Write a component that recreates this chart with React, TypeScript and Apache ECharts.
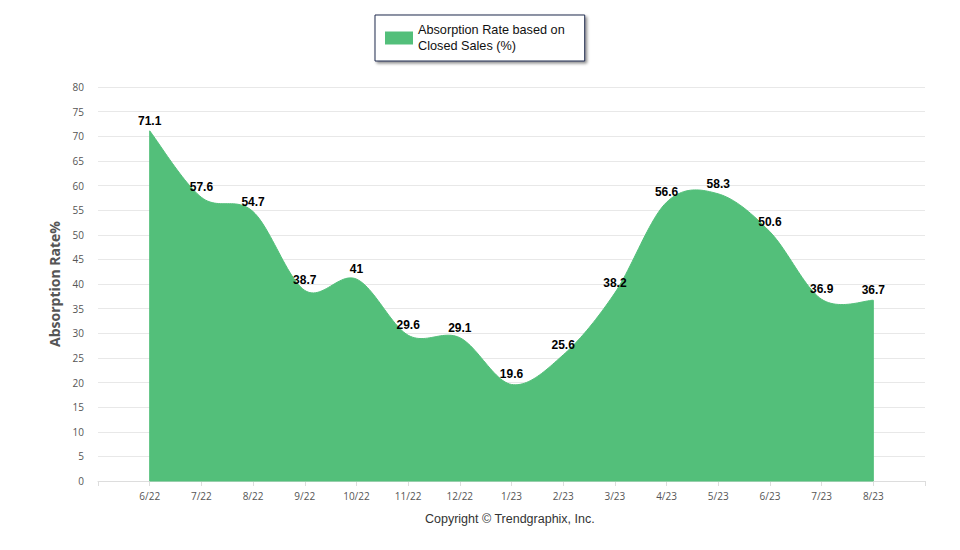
import React, { useEffect, useRef } from "react";
import * as echarts from "echarts";

const categories = ["", "6/22", "7/22", "8/22", "9/22", "10/22", "11/22", "12/22", "1/23", "2/23", "3/23", "4/23", "5/23", "6/23", "7/23", "8/23", ""];
const values: (number | null)[] = [null, 71.1, 57.6, 54.7, 38.7, 41, 29.6, 29.1, 19.6, 25.6, 38.2, 56.6, 58.3, 50.6, 36.9, 36.7, null];
const seriesName = "Absorption Rate based on\nClosed Sales (%)";
const yMin = 0;
const yMax = 80;
const yInterval = 5;

export default function App() {
  const ref = useRef<HTMLDivElement>(null);
  useEffect(() => {
    if (!ref.current) return;
    const chart = echarts.init(ref.current, null, { renderer: "svg" });
    const green = "#53bf7a";
    const pointData: [number, number][] = [];
    values.forEach((v, i) => {
      if (v !== null) pointData.push([i, v]);
    });

    const renderItem = (params: any, api: any) => {
      if (params.dataIndex !== 0) return null;
      const pts: number[][] = pointData.map((d) => api.coord(d));
      const n = pts.length;
      const top: number[][] = [];
      const steps = 24;
      for (let i = 0; i < n - 1; i++) {
        const p0 = pts[Math.max(0, i - 1)];
        const p1 = pts[i];
        const p2 = pts[i + 1];
        const p3 = pts[Math.min(n - 1, i + 2)];
        for (let s = 0; s < steps; s++) {
          const t = s / steps;
          const t2 = t * t;
          const t3 = t2 * t;
          const f = (a: number, b: number, c: number, d: number) =>
            0.5 * (2 * b + (-a + c) * t + (2 * a - 5 * b + 4 * c - d) * t2 + (-a + 3 * b - 3 * c + d) * t3);
          top.push([f(p0[0], p1[0], p2[0], p3[0]), f(p0[1], p1[1], p2[1], p3[1])]);
        }
      }
      top.push(pts[n - 1]);
      const baseL = api.coord([pointData[0][0], 0]);
      const baseR = api.coord([pointData[n - 1][0], 0]);
      const poly = [...top, [baseR[0], baseR[1]], [baseL[0], baseL[1]]];
      const labels = pointData.map((d, i) => ({
        type: "text",
        x: pts[i][0],
        y: pts[i][1] - 4,
        z2: 10,
        style: {
          text: String(d[1]),
          align: "center",
          verticalAlign: "bottom",
          fill: "#000",
          fontSize: 12,
          fontWeight: "bold",
          fontFamily: "Liberation Sans, Arial, sans-serif",
        },
      }));
      return {
        type: "group",
        children: [
          {
            type: "polygon",
            shape: { points: poly },
            style: { fill: green, stroke: green, lineWidth: 1 },
          },
          ...labels,
        ],
      };
    };

    chart.setOption({
      animation: false,
      backgroundColor: "#ffffff",
      textStyle: { fontFamily: "Liberation Sans, Arial, sans-serif" },
      legend: {
        top: 15,
        left: 375,
        itemWidth: 28,
        itemHeight: 13,
        itemGap: 6,
        padding: [7, 20, 7, 10],
        borderColor: "#1f2d4f",
        borderWidth: 1,
        backgroundColor: "#ffffff",
        shadowColor: "rgba(0,0,0,0.45)",
        shadowBlur: 3,
        shadowOffsetX: 2,
        shadowOffsetY: 2,
        textStyle: { fontSize: 12.7, color: "#111", lineHeight: 16, fontFamily: "Liberation Sans, Arial, sans-serif" },
        data: [{ name: seriesName, icon: "rect", itemStyle: { color: green } }],
      },
      grid: { left: 98, right: 35, top: 87, bottom: 69 },
      xAxis: {
        type: "category",
        boundaryGap: false,
        data: categories,
        axisLine: { show: true, lineStyle: { color: "#dddddd" } },
        axisTick: { show: true, length: 5, lineStyle: { color: "#dddddd" } },
        axisLabel: { color: "#555", fontSize: 10, margin: 10, fontFamily: "Open Sans, sans-serif" },
        splitLine: { show: false },
      },
      yAxis: {
        type: "value",
        min: yMin,
        max: yMax,
        interval: yInterval,
        name: "Absorption Rate%",
        nameLocation: "middle",
        nameGap: 34,
        nameTextStyle: { color: "#555", fontSize: 14, fontWeight: "bold", fontFamily: "Open Sans, sans-serif" },
        axisLine: { show: false },
        axisTick: { show: false },
        axisLabel: { color: "#555", fontSize: 10, margin: 14, fontFamily: "Open Sans, sans-serif" },
        splitLine: { lineStyle: { color: "#e8e8e8" } },
      },
      series: [
        {
          name: seriesName,
          type: "custom",
          renderItem,
          data: pointData,
          encode: { x: 0, y: 1 },
          itemStyle: { color: green },
          silent: true,
          z: 2,
        },
      ],
      graphic: [
        {
          type: "text",
          left: 425,
          top: 512,
          style: { text: "Copyright © Trendgraphix, Inc.", fontSize: 12.5, fill: "#333", fontFamily: "Liberation Sans, Arial, sans-serif" },
        },
      ],
    });
    return () => chart.dispose();
  }, []);
  return <div ref={ref} style={{ position: "fixed", left: 0, top: 0, width: 960, height: 550 }} />;
}
